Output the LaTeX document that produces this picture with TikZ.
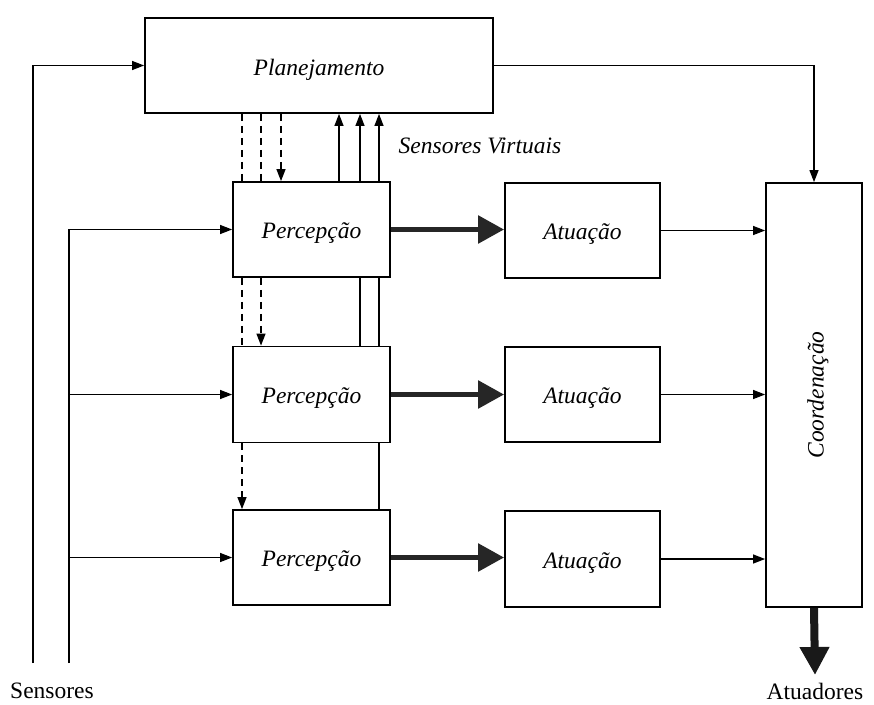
\documentclass[tikz,border=0pt]{standalone}
\usepackage{fontspec}
\setmainfont{Liberation Serif}
\usetikzlibrary{arrows.meta,calc}
\newcommand{\lowtxt}[1]{\raisebox{-4pt}[\height][\depth]{#1}}
\begin{document}
\begin{tikzpicture}[x=1pt,y=-1pt,
  every node/.style={font=\fontsize{23.5}{28}\selectfont},
  box/.style={draw,line width=1.8pt,inner sep=0pt,font=\fontsize{23.5}{28}\selectfont\itshape},
  conn/.style={line width=1.2pt,-{Triangle[length=12pt,width=9pt]}},
  plain/.style={line width=1.2pt},
  dline/.style={line width=1.3pt,dash pattern=on 7pt off 5pt},
  darrow/.style={dline,-{Triangle[length=12pt,width=9pt]}},
  thickarrow/.style={line width=5.5pt,draw=black!85,-{Triangle[length=26pt,width=27pt]}},
  bigarrow/.style={line width=8pt,draw=black!90,-{Triangle[length=28pt,width=28pt]}}
]
\useasboundingbox (0,0) rectangle (874,704);

% boxes
\node[box,minimum width=348pt,minimum height=95pt] (plan) at (319,65.5) {\lowtxt{Planejamento}};
\node[box,minimum width=157pt,minimum height=95pt] (perc1) at (311.5,229.5) {\lowtxt{Percepção}};
\node[box,minimum width=157pt,minimum height=96pt] (perc2) at (311.5,394.5) {\lowtxt{Percepção}};
\node[box,minimum width=157pt,minimum height=95pt] (perc3) at (311.5,557.5) {\lowtxt{Percepção}};
\node[box,minimum width=155pt,minimum height=95pt] (at1) at (582.5,230.5) {\lowtxt{Atuação}};
\node[box,minimum width=155pt,minimum height=95pt] (at2) at (582.5,394.5) {\lowtxt{Atuação}};
\node[box,minimum width=155pt,minimum height=96pt] (at3) at (582.5,559) {\lowtxt{Atuação}};
\node[box,minimum width=96pt,minimum height=424pt] (coord) at (814,395) {};
\node[font=\fontsize{23.5}{28}\selectfont\itshape,rotate=90] (coordtxt) at (818,395) {Coordenação};

% labels
\node (sv) at (480,146) {\itshape Sensores Virtuais};
\node[inner sep=1pt] (sen) at (52,691) {Sensores};
\node[inner sep=1pt] (atl) at (815,691) {Atuadores};

% helper coordinates
\coordinate (s1) at (33,663);
\coordinate (s2) at (69,663);
\coordinate (dx1) at (242,0);
\coordinate (dx2) at (261,0);
\coordinate (dx3) at (281,0);
\coordinate (ux1) at (339,0);
\coordinate (ux2) at (360,0);
\coordinate (ux3) at (379,0);
\coordinate (atip) at (815,675);

% sensor inputs
\draw[conn] (s1) |- (plan.west);
\draw[conn] (s2) |- (perc1.west);
\draw[conn] (perc2.west -| s2) -- (perc2.west);
\draw[conn] (perc3.west -| s2) -- (perc3.west);

% planning to coordination
\draw[conn] (plan.east) -| (coord.north);

% dashed top-down
\draw[dline] (plan.south -| dx1) -- (perc1.north -| dx1);
\draw[dline] (plan.south -| dx2) -- (perc1.north -| dx2);
\draw[darrow] (plan.south -| dx3) -- (perc1.north -| dx3);
\draw[dline] (perc1.south -| dx1) -- (perc2.north -| dx1);
\draw[darrow] (perc1.south -| dx2) -- (perc2.north -| dx2);
\draw[darrow] (perc2.south -| dx1) -- (perc3.north -| dx1);

% virtual sensors bottom-up
\draw[conn] (perc1.north -| ux1) -- (plan.south -| ux1);
\draw[conn] (perc1.north -| ux2) -- (plan.south -| ux2);
\draw[conn] (perc1.north -| ux3) -- (plan.south -| ux3);
\draw[plain] (perc2.north -| ux2) -- (perc1.south -| ux2);
\draw[plain] (perc2.north -| ux3) -- (perc1.south -| ux3);
\draw[plain] (perc3.north -| ux3) -- (perc2.south -| ux3);

% perception to actuation
\draw[thickarrow] (perc1.east) -- (perc1.east -| at1.west);
\draw[thickarrow] (perc2.east) -- (perc2.east -| at2.west);
\draw[thickarrow] (perc3.east) -- (perc3.east -| at3.west);

% actuation to coordination
\draw[conn] (at1.east) -- (at1.east -| coord.west);
\draw[conn] (at2.east) -- (at2.east -| coord.west);
\draw[conn] (at3.east) -- (at3.east -| coord.west);

% coordination to actuators
\draw[bigarrow] (coord.south) -- (atip);
\end{tikzpicture}
\end{document}
